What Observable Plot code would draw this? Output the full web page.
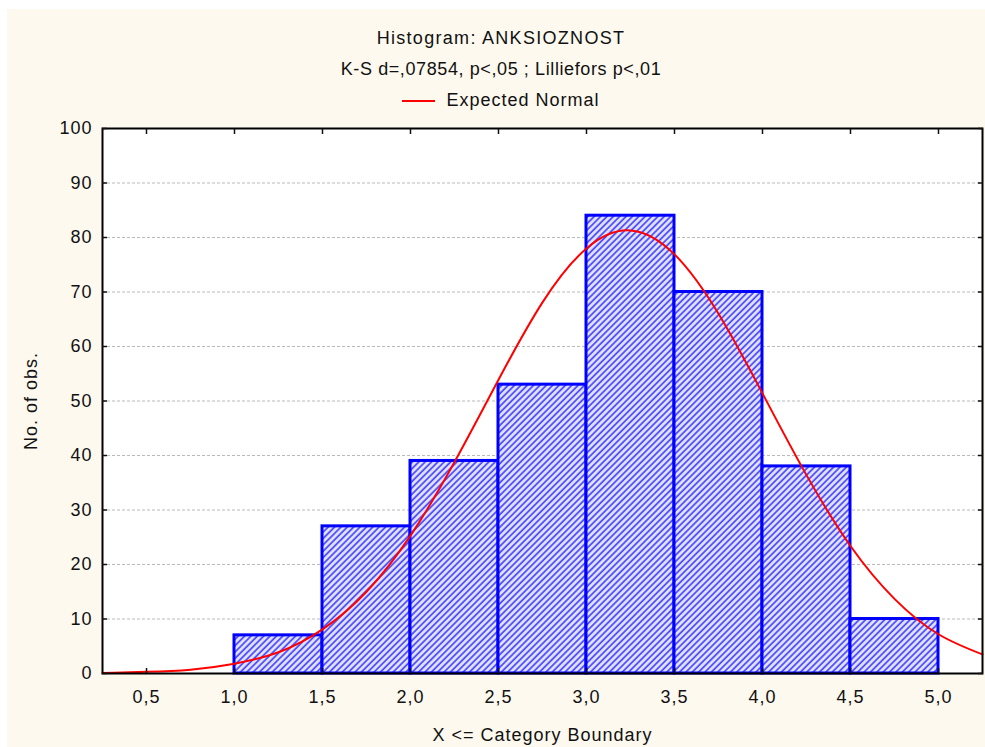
<!DOCTYPE html>
<html>
<head>
<meta charset="utf-8">
<script src="https://cdn.jsdelivr.net/npm/d3@7"></script>
<script src="https://cdn.jsdelivr.net/npm/@observablehq/plot@0.6"></script>
<style>
  body { margin: 0; background: #ffffff; }
  #wrap { position: absolute; left: 7px; top: 9px; width: 978px; height: 738px; background: #fdf9ef; font-family: "Liberation Sans", Arial, sans-serif; color: #111; }
  .line { position: absolute; left: 0; width: 988px; text-align: center; font-size: 18px; line-height: 22px; letter-spacing: 1px; }
  #chart { position: absolute; left: 0; top: 106px; }
  .sw { display: inline-block; width: 33px; height: 2px; background: #ff0000; vertical-align: middle; margin-right: 11px; }
</style>
</head>
<body>
<div id="wrap">
  <div class="line" style="top:18px; letter-spacing:1.3px">Histogram: ANKSIOZNOST</div>
  <div class="line" style="top:49px; letter-spacing:0.6px">K-S d=,07854, p&lt;,05 ; Lilliefors p&lt;,01</div>
  <div class="line" style="top:80px"><span class="sw"></span>Expected Normal</div>
  <div id="chart"></div>
</div>
<script>
// Histogram bins (upper category boundary) and counts
const binStart = [1.0, 1.5, 2.0, 2.5, 3.0, 3.5, 4.0, 4.5];
const binEnd   = [1.5, 2.0, 2.5, 3.0, 3.5, 4.0, 4.5, 5.0];
const counts   = [7, 27, 39, 53, 84, 70, 38, 10];

// Expected normal curve
const curveX = [0.25, 0.5, 0.75, 1.0, 1.25, 1.5, 1.75, 2.0, 2.25, 2.5, 2.75, 3.0, 3.25, 3.5, 3.75, 4.0, 4.25, 4.5, 4.75, 5.0, 5.25];
const curveY = [0.1, 0.3, 0.7, 1.8, 3.9, 8.1, 15.0, 25.3, 38.8, 53.9, 68.1, 78.0, 81.3, 76.9, 66.0, 51.4, 36.4, 23.4, 13.7, 7.2, 3.5];

const xTicks = [0.5, 1.0, 1.5, 2.0, 2.5, 3.0, 3.5, 4.0, 4.5, 5.0];
const yTicks = [0, 10, 20, 30, 40, 50, 60, 70, 80, 90, 100];
const gridTicks = [10, 20, 30, 40, 50, 60, 70, 80, 90];

const bars = binStart.map((s, i) => ({x1: s, x2: binEnd[i], y: counts[i]}));
const curve = curveX.map((x, i) => ({x, y: curveY[i]}));
const fmt = d => d.toFixed(1).replace(".", ",");

const plot = Plot.plot({
  width: 978,
  height: 632,
  marginLeft: 95,
  marginRight: 3,
  marginTop: 13,
  marginBottom: 74,
  style: {background: "transparent", fontFamily: "'Liberation Sans', Arial, sans-serif", fontSize: "18px", color: "#111", overflow: "visible"},
  x: {domain: [0.25, 5.25]},
  y: {domain: [0, 100]},
  marks: [
    Plot.frame({fill: "#ffffff"}),
    Plot.gridY(gridTicks, {stroke: "#a8a8a8", strokeOpacity: 1, strokeDasharray: "3,2", strokeWidth: 0.8}),
    Plot.rectY(bars, {x1: "x1", x2: "x2", y: "y", fill: "url(#hatch)", stroke: "#0000ff", strokeWidth: 3}),
    Plot.line(curve, {x: "x", y: "y", stroke: "#ff0000", strokeWidth: 2, curve: "natural"}),
    Plot.frame({stroke: "#000", strokeWidth: 2}),
    Plot.axisX(xTicks, {anchor: "bottom", tickSize: 0, tickPadding: 17, tickFormat: fmt, label: "X <= Category Boundary", labelAnchor: "center", labelOffset: 67, labelArrow: "none"}),
    Plot.axisX(xTicks, {anchor: "bottom", tickSize: -5, text: null, label: null, strokeWidth: 1.5}),
    Plot.axisX(xTicks, {anchor: "top", tickSize: -5, text: null, label: null, strokeWidth: 1.5}),
    Plot.axisY(yTicks, {anchor: "left", tickSize: 0, tickPadding: 10, label: "No. of obs.", labelAnchor: "center", labelOffset: 78, labelArrow: "none"}),
    Plot.axisY(yTicks, {anchor: "left", tickSize: -5, text: null, label: null, strokeWidth: 1.5}),
    Plot.axisY(yTicks, {anchor: "right", tickSize: -5, text: null, label: null, strokeWidth: 1.5})
  ]
});

const svg = d3.select(plot);
const defs = svg.insert("defs", ":first-child");
const pat = defs.append("pattern")
  .attr("id", "hatch")
  .attr("patternUnits", "userSpaceOnUse")
  .attr("width", 4.5).attr("height", 4.5)
  .attr("patternTransform", "rotate(45)");
pat.append("rect").attr("width", 4.5).attr("height", 4.5).attr("fill", "#e2e2ff");
pat.append("line").attr("x1", 1).attr("x2", 1).attr("y1", 0).attr("y2", 4.5)
  .attr("stroke", "#4646ff").attr("stroke-width", 1.7);
svg.selectAll("text").attr("letter-spacing", "1px");

document.getElementById("chart").appendChild(plot);
</script>
</body>
</html>
